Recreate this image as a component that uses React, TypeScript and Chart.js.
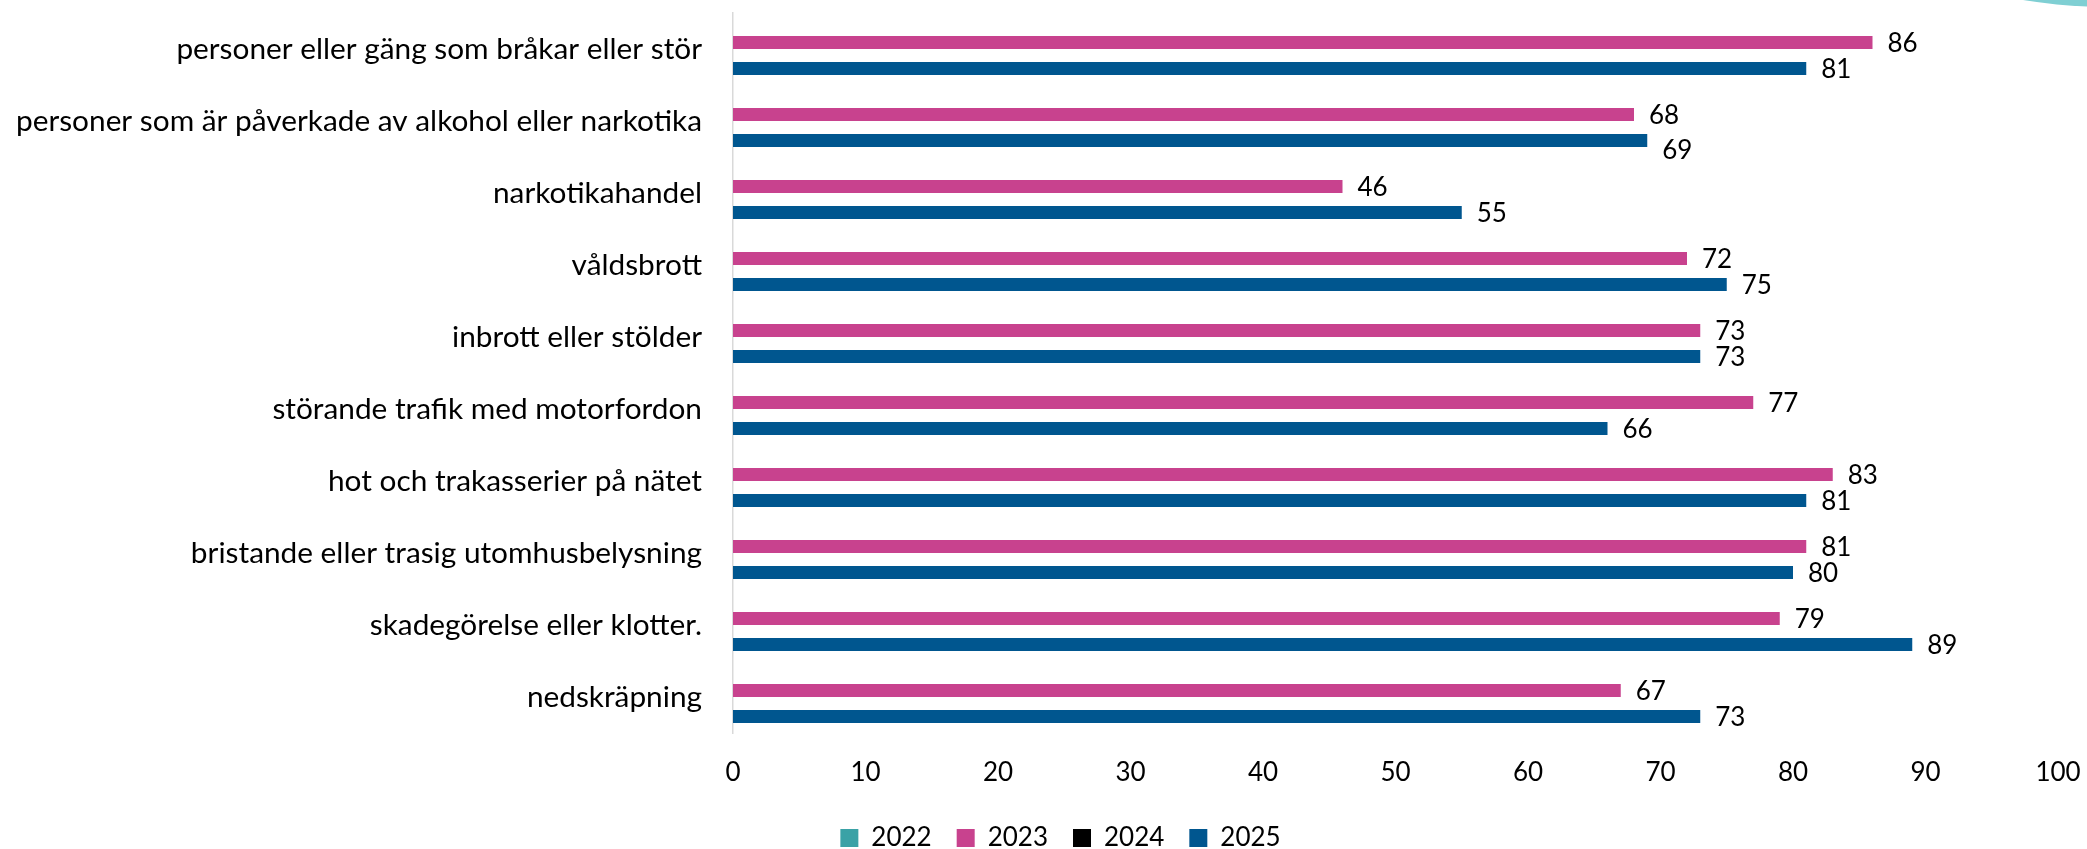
import React, { useEffect, useRef } from "react";
import { Chart, registerables } from "chart.js";

Chart.register(...registerables);

const categories = [
  "personer eller gäng som bråkar eller stör",
  "personer som är påverkade av alkohol eller narkotika",
  "narkotikahandel",
  "våldsbrott",
  "inbrott eller stölder",
  "störande trafik med motorfordon",
  "hot och trakasserier på nätet",
  "bristande eller trasig utomhusbelysning",
  "skadegörelse eller klotter.",
  "nedskräpning",
];

const seriesNames = ["2022", "2023", "2024", "2025"];
const values2022: (number | null)[] = [null, null, null, null, null, null, null, null, null, null];
const values2023: (number | null)[] = [86, 68, 46, 72, 73, 77, 83, 81, 79, 67];
const values2024: (number | null)[] = [null, null, null, null, null, null, null, null, null, null];
const values2025: (number | null)[] = [81, 69, 55, 75, 73, 66, 81, 80, 89, 73];
const seriesColors = ["#3AA2A6", "#C8428E", "#000000", "#00568F"];

const xTicks = [0, 10, 20, 30, 40, 50, 60, 70, 80, 90, 100];

const FONT = "Lato";
const FS = 26;
const CAT_FS = 29.8;

const decorPlugin = {
  id: "decor",
  beforeDraw(chart: any) {
    const ctx = chart.ctx;
    ctx.save();
    ctx.fillStyle = "#7FCFD3";
    ctx.beginPath();
    ctx.arc(2110, -537, 544, 0, Math.PI * 2);
    ctx.fill();
    ctx.restore();
  },
};

const legendShiftPlugin = {
  id: "legendShift",
  afterLayout(chart: any) {
    if (chart.legend) {
      chart.legend.left += 19;
      chart.legend.right += 19;
    }
  },
};

const labelPlugin = {
  id: "barLabels",
  afterDatasetsDraw(chart: any) {
    const ctx = chart.ctx;
    ctx.save();
    ctx.font = `${FS}px ${FONT}`;
    ctx.fillStyle = "#000000";
    ctx.textAlign = "left";
    ctx.textBaseline = "alphabetic";
    const digitH = FS * 0.72;
    const gap = 15;
    const n = chart.data.labels.length;
    for (let i = 0; i < n; i++) {
      const boxes: { x: number; w: number }[] = [];
      chart.data.datasets.forEach((ds: any, di: number) => {
        const meta = chart.getDatasetMeta(di);
        if (!meta || meta.hidden) return;
        const v = ds.data[i];
        if (v === null || v === undefined) return;
        const el = meta.data[i];
        const txt = String(v);
        const w = ctx.measureText(txt).width;
        const x = el.x + gap;
        let dy = 0;
        for (const b of boxes) {
          if (x > b.x && x < b.x + b.w) dy = 9;
        }
        boxes.push({ x, w });
        ctx.fillText(txt, x, el.y + digitH / 2 + dy);
      });
    }
    ctx.restore();
  },
};

export default function App() {
  const ref = useRef<HTMLCanvasElement | null>(null);
  useEffect(() => {
    let chart: Chart | null = null;
    let cancelled = false;
    const make = () => {
      if (cancelled || !ref.current) return;
      Chart.defaults.font.family = FONT;
      Chart.defaults.font.size = FS;
      Chart.defaults.color = "#000000";
      const allSeries = [values2022, values2023, values2024, values2025];
      chart = new Chart(ref.current, {
        type: "bar",
        data: {
          labels: categories,
          datasets: seriesNames.map((name, i) => ({
            label: name,
            data: allSeries[i],
            backgroundColor: seriesColors[i],
            borderWidth: 0,
            categoryPercentage: 0.722,
            barPercentage: 1,
          })),
        },
        options: {
          indexAxis: "y",
          responsive: false,
          animation: false,
          events: [],
          layout: { padding: { left: 0, right: 4, top: 13, bottom: -12 } },
          scales: {
            x: {
              min: 0,
              max: 100,
              afterBuildTicks: (scale: any) => {
                scale.ticks = xTicks.map((v) => ({ value: v }));
              },
              afterFit: (scale: any) => {
                scale.height = 67;
                scale.paddingLeft = 0;
                scale.paddingRight = 29;
              },
              grid: { display: false, drawTicks: false },
              border: { display: false },
              ticks: {
                padding: 24,
                font: { family: FONT, size: FS },
                color: "#000000",
                maxRotation: 0,
              },
            },
            y: {
              afterFit: (scale: any) => {
                scale.width = 733;
                scale.paddingTop = 0;
                scale.paddingBottom = 0;
              },
              grid: { display: false, drawTicks: false },
              border: { display: true, color: "#D9D9D9", width: 1.5 },
              ticks: {
                padding: 31,
                font: { family: FONT, size: CAT_FS },
                color: "#000000",
                autoSkip: false,
              },
            },
          },
          plugins: {
            legend: {
              position: "bottom",
              labels: {
                boxWidth: 18,
                boxHeight: 18,
                padding: 25,
                font: { family: FONT, size: FS },
                color: "#000000",
              },
            },
            tooltip: { enabled: false },
          },
        },
        plugins: [decorPlugin, legendShiftPlugin, labelPlugin],
      } as any);
    };
    const fontsApi = (document as any).fonts;
    if (fontsApi && fontsApi.load) {
      Promise.all([fontsApi.load(`${FS}px ${FONT}`), fontsApi.load(`${CAT_FS}px ${FONT}`)]).then(make, make);
    } else {
      make();
    }
    return () => {
      cancelled = true;
      if (chart) chart.destroy();
    };
  }, []);
  return (
    <div style={{ position: "fixed", left: 0, top: 0, width: 2087, height: 849, background: "#ffffff" }}>
      <canvas ref={ref} width={2087} height={849} style={{ display: "block", width: 2087, height: 849 }} />
    </div>
  );
}
